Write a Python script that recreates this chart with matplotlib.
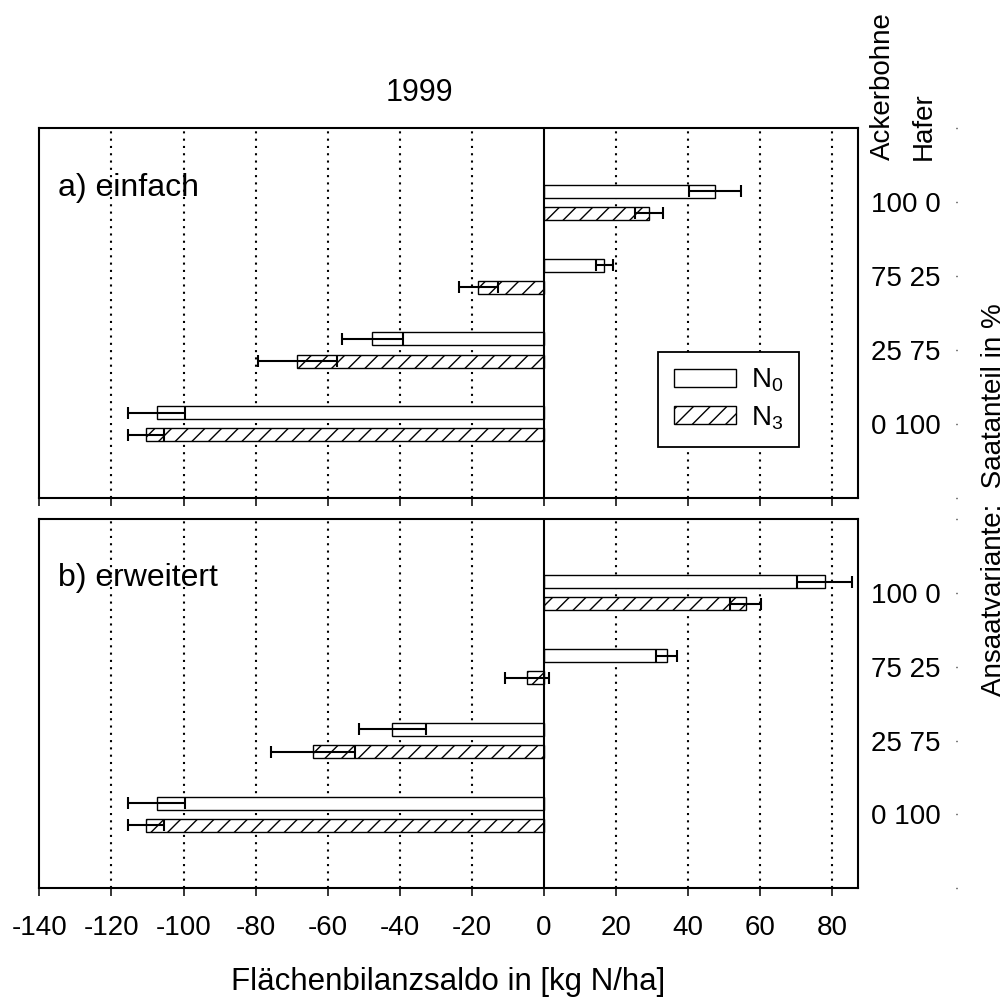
import numpy as np
import matplotlib
matplotlib.use("Agg")
import matplotlib.pyplot as plt

plt.rcParams['font.family'] = ['Liberation Sans', 'DejaVu Sans']
plt.rcParams['mathtext.default'] = 'regular'
plt.rcParams['axes.unicode_minus'] = False
plt.rcParams['hatch.linewidth'] = 1.0

# Ansaatvariante (Ackerbohne / Hafer), top to bottom
categories = ["100 0", "75 25", "25 75", "0 100"]
series = ["N$_0$", "N$_3$"]

# a) einfach
einfach_n0 = [47.5, 16.7, -47.6, -107.5]
einfach_n0_err = [7.2, 2.3, 8.5, 8.0]
einfach_n3 = [29.1, -18.2, -68.4, -110.4]
einfach_n3_err = [3.9, 5.3, 11.0, 4.9]

# b) erweitert
erweitert_n0 = [77.9, 34.0, -42.1, -107.5]
erweitert_n0_err = [7.6, 3.0, 9.3, 8.0]
erweitert_n3 = [55.9, -4.6, -64.1, -110.4]
erweitert_n3_err = [4.2, 6.1, 11.6, 4.9]

xticks = list(range(-140, 81, 20))

fig = plt.figure(figsize=(10.07, 9.98), dpi=100)

ax_left, ax_width = 0.0391, 0.8126
panels = [
    (0.5013, "a) einfach", einfach_n0, einfach_n0_err, einfach_n3, einfach_n3_err),
    (0.1100, "b) erweitert", erweitert_n0, erweitert_n0_err, erweitert_n3, erweitert_n3_err),
]
height = 0.37

y = np.arange(1, len(categories) + 1)
bar_h = 0.175
offset = 0.15

for i, (bottom, label, n0, n0_err, n3, n3_err) in enumerate(panels):
    ax = fig.add_axes([ax_left, bottom, ax_width, height])
    ax.barh(y - offset, n0, height=bar_h, color='white', edgecolor='black',
            linewidth=1.0, label=series[0], zorder=3)
    ax.barh(y + offset, n3, height=bar_h, color='white', edgecolor='black',
            linewidth=1.0, hatch='//', label=series[1], zorder=3)
    ax.errorbar(n0, y - offset, xerr=n0_err, fmt='none', ecolor='black',
                elinewidth=1.5, capsize=4.5, capthick=1.5, zorder=4)
    ax.errorbar(n3, y + offset, xerr=n3_err, fmt='none', ecolor='black',
                elinewidth=1.5, capsize=4.5, capthick=1.5, zorder=4)

    for xt in xticks:
        if xt not in (-140, 0):
            ax.axvline(xt, color='black', linestyle=(0, (1, 2.5)), linewidth=1.5, zorder=1)
    ax.axvline(0, color='black', linewidth=1.5, zorder=5)

    ax.set_xlim(-140, 87)
    ax.set_ylim(5, 0)
    ax.set_xticks(xticks)
    ax.set_yticks([])
    ax.tick_params(axis='x', direction='out', length=6, width=1.1, pad=13, labelsize=20)
    if i == 0:
        ax.tick_params(axis='x', labelbottom=False)
    for sp in ax.spines.values():
        sp.set_linewidth(1.5)

    ax.text(0.023, 0.84, label, transform=ax.transAxes, fontsize=23,
            ha='left', va='center', zorder=6)

    # category labels on a separate thin axis to the right
    axr = fig.add_axes([0.9503, bottom, 0.0005, height])
    axr.set_ylim(5, 0)
    axr.set_xticks([])
    axr.set_yticks(y)
    axr.set_yticklabels(categories)
    axr.set_yticks([0, 5], minor=True)
    axr.tick_params(axis='y', which='both', direction='out', length=1, width=1,
                    pad=10.5, labelsize=20)
    for sp in axr.spines.values():
        sp.set_visible(False)
    axr.patch.set_visible(False)

    if i == 0:
        leg = ax.legend(loc='center', bbox_to_anchor=(728.8 / 1007, 1 - 399.2 / 998),
                        bbox_transform=fig.transFigure, fontsize=20, frameon=True,
                        fancybox=False, edgecolor='black', framealpha=1,
                        handlelength=2.25, handleheight=0.6, handletextpad=0.55,
                        labelspacing=0.35, borderpad=0.55)
        leg.get_frame().set_linewidth(1.3)
        leg.set_zorder(7)

fig.text(419 / 1007, 1 - 100.7 / 998, "1999", fontsize=22, ha='center', va='baseline')
fig.text(448.5 / 1007, 1 - 990 / 998, "Flächenbilanzsaldo in [kg N/ha]",
         fontsize=22.5, ha='center', va='baseline')
fig.text(882.5 / 1007, 1 - 160 / 998, "Ackerbohne", rotation=90, fontsize=20,
         ha='center', va='bottom')
fig.text(924 / 1007, 1 - 160 / 998, "Hafer", rotation=90, fontsize=20,
         ha='center', va='bottom')
fig.text(994 / 1007, 1 - 500 / 998, "Ansaatvariante:  Saatanteil in %", rotation=90,
         fontsize=20, ha='center', va='center')

fig.savefig("out.png", dpi=100)
